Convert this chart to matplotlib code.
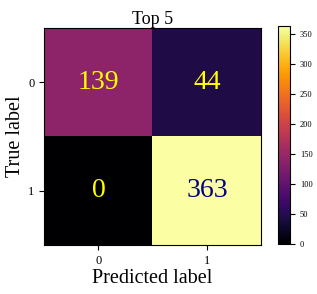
import numpy as np
import matplotlib
matplotlib.use('Agg')
import matplotlib.pyplot as plt

plt.rcParams['font.family'] = ['Liberation Serif', 'DejaVu Serif']

title = 'Top 5'
class_labels = ['0', '1']
matrix = np.array([[139, 44],
                   [0, 363]])
text_colors = [['yellow', 'yellow'],
               ['yellow', 'navy']]
cbar_ticks = [0, 50, 100, 150, 200, 250, 300, 350]

fig = plt.figure(figsize=(3.17, 2.94), dpi=100)
ax = fig.add_axes([0.139, 0.167, 0.685, 0.738])
cax = fig.add_axes([0.877, 0.170, 0.038, 0.742])

im = ax.imshow(matrix, cmap='inferno', vmin=0, vmax=matrix.max())
for i in range(matrix.shape[0]):
    for j in range(matrix.shape[1]):
        ax.text(j, i, str(matrix[i, j]), ha='center', va='center',
                fontsize=20, color=text_colors[i][j])

ax.set_xticks(range(len(class_labels)))
ax.set_yticks(range(len(class_labels)))
ax.set_xticklabels(class_labels, fontsize=9)
ax.set_yticklabels(class_labels, fontsize=9)
ax.set_xlabel('Predicted label', fontsize=14.5, labelpad=2)
ax.set_ylabel('True label', fontsize=14.5, labelpad=2)
ax.set_title(title, fontsize=13, pad=3)

cb = fig.colorbar(im, cax=cax, ticks=cbar_ticks)
cb.ax.tick_params(labelsize=6)

fig.savefig('out.png', dpi=100)
